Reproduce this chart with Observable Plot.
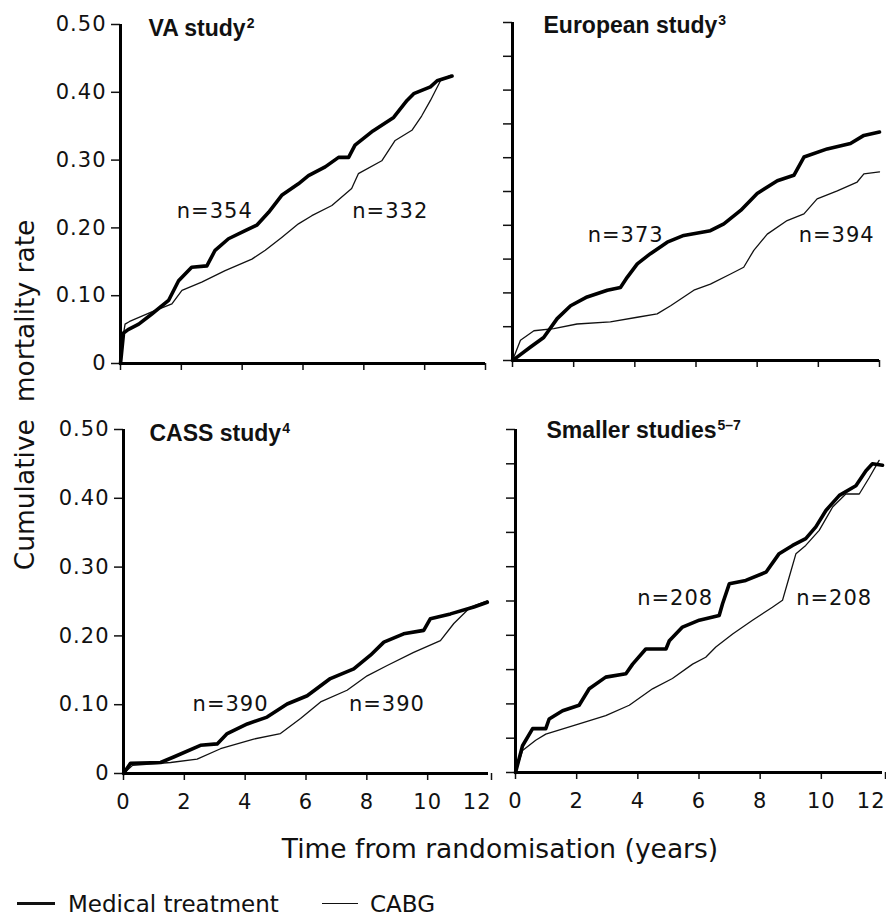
<!DOCTYPE html>
<html>
<head>
<meta charset="utf-8">
<script src="https://cdn.jsdelivr.net/npm/d3@7"></script>
<script src="https://cdn.jsdelivr.net/npm/@observablehq/plot@0.6"></script>
<style>
  body { margin: 0; background: #fff; }
  #chart { position: relative; width: 886px; height: 918px; font-family: "DejaVu Sans", sans-serif; color: #111; overflow: hidden; }
  #chart > svg, #chart > div { position: absolute; }
  .ytitle { font-size: 26.5px; white-space: pre; line-height: 1; transform: translate(-50%, -50%) rotate(-90deg); }
  .xtitle { font-size: 26.5px; white-space: pre; line-height: 1; transform: translateX(-50%); }
  .leg { font-size: 23px; line-height: 20px; white-space: pre; }
  .legline { height: 0; }
</style>
</head>
<body>
<div id="chart"></div>
<script>
// ---------- data (time in years, cumulative mortality rate) ----------
const xTicks = [0, 2, 4, 6, 8, 10, 12];
const xTicksInner = [0, 2, 4, 6, 8, 10];
const xTicksLast = [12];
const yTicksMajor = [0, 0.1, 0.2, 0.3, 0.4, 0.5];
const yTicksMinor = [0, 0.05, 0.1, 0.15, 0.2, 0.25, 0.3, 0.35, 0.4, 0.45, 0.5];

const panelTitles = ["VA study", "European study", "CASS study", "Smaller studies"];
const panelRefs = ["2", "3", "4", "5\u20137"];
const seriesNames = ["Medical treatment", "CABG"];

const vaMedical = [[0,0],[0.1,0.045],[0.25,0.05],[0.6,0.058],[1.03,0.073],[1.58,0.093],[1.91,0.122],[2.34,0.142],[2.84,0.144],[3.11,0.167],[3.55,0.184],[4.1,0.196],[4.48,0.204],[4.87,0.223],[5.3,0.248],[5.85,0.265],[6.18,0.277],[6.73,0.29],[7.17,0.304],[7.5,0.304],[7.71,0.322],[8.3,0.343],[8.98,0.363],[9.42,0.388],[9.64,0.398],[10.19,0.408],[10.41,0.417],[10.9,0.424]];
const vaCabg = [[0,0],[0.05,0.03],[0.15,0.058],[0.3,0.062],[1.03,0.076],[1.69,0.088],[2.02,0.108],[2.67,0.12],[3.44,0.137],[4.32,0.154],[4.76,0.167],[5.3,0.186],[5.85,0.206],[6.29,0.218],[6.95,0.233],[7.6,0.258],[7.82,0.28],[8.59,0.299],[9.03,0.329],[9.58,0.344],[9.9,0.365],[10.19,0.388],[10.52,0.417],[10.85,0.425]];

const euMedical = [[0,0],[0.15,0.005],[0.59,0.02],[1.02,0.034],[1.46,0.062],[1.9,0.081],[2.44,0.094],[3.1,0.104],[3.53,0.108],[3.75,0.123],[4.08,0.143],[4.51,0.158],[5.06,0.175],[5.6,0.185],[6.47,0.192],[6.91,0.202],[7.46,0.222],[8.0,0.247],[8.66,0.266],[9.2,0.274],[9.53,0.301],[10.29,0.313],[11.05,0.321],[11.49,0.333],[12.0,0.338]];
const euCabg = [[0,0],[0.26,0.03],[0.7,0.044],[1.35,0.047],[2.11,0.054],[3.2,0.057],[4.08,0.064],[4.73,0.069],[5.17,0.081],[5.93,0.104],[6.47,0.113],[7.13,0.128],[7.56,0.138],[7.89,0.163],[8.33,0.187],[8.98,0.207],[9.53,0.217],[9.96,0.239],[10.62,0.251],[11.27,0.264],[11.49,0.276],[12.0,0.279]];

const cassMedical = [[0,0],[0.23,0.015],[1.22,0.016],[1.65,0.024],[2.53,0.041],[3.08,0.043],[3.41,0.058],[4.07,0.072],[4.72,0.082],[5.38,0.101],[6.04,0.113],[6.8,0.138],[7.57,0.152],[8.12,0.172],[8.56,0.191],[9.21,0.203],[9.87,0.208],[10.09,0.225],[10.75,0.232],[11.52,0.242],[11.96,0.249]];
const cassCabg = [[0,0],[0.3,0.012],[1.55,0.016],[2.42,0.021],[3.19,0.036],[4.28,0.05],[5.16,0.058],[5.82,0.08],[6.48,0.104],[7.35,0.121],[8.01,0.142],[8.67,0.157],[9.54,0.176],[10.42,0.193],[10.86,0.218],[11.41,0.242],[11.96,0.251]];

const smallMedical = [[0,0],[0.23,0.039],[0.56,0.064],[0.99,0.064],[1.1,0.078],[1.54,0.09],[2.08,0.098],[2.41,0.122],[2.95,0.139],[3.61,0.144],[3.83,0.158],[4.26,0.18],[4.92,0.18],[5.03,0.192],[5.46,0.212],[6.01,0.222],[6.66,0.229],[6.77,0.246],[6.99,0.275],[7.53,0.28],[8.19,0.292],[8.62,0.319],[9.06,0.331],[9.49,0.341],[9.82,0.358],[10.15,0.382],[10.59,0.404],[11.13,0.418],[11.46,0.44],[11.67,0.45],[12,0.448]];
const smallCabg = [[0,0],[0.23,0.032],[0.66,0.047],[0.99,0.056],[2.08,0.071],[2.95,0.083],[3.72,0.098],[4.48,0.122],[5.13,0.137],[5.79,0.158],[6.22,0.168],[6.55,0.183],[7.1,0.202],[7.75,0.222],[8.4,0.241],[8.73,0.251],[8.95,0.285],[9.17,0.319],[9.49,0.331],[9.93,0.353],[10.37,0.387],[10.8,0.406],[11.24,0.406],[11.57,0.43],[11.89,0.455]];

// patient numbers, placed at (time, rate)
const vaLabels = [{t: 3.1, v: 0.224, n: 354}, {t: 8.87, v: 0.224, n: 332}];
const euLabels = [{t: 3.7, v: 0.185, n: 373}, {t: 10.6, v: 0.185, n: 394}];
const cassLabels = [{t: 3.52, v: 0.1, n: 390}, {t: 8.66, v: 0.1, n: 390}];
const smallLabels = [{t: 5.22, v: 0.254, n: 208}, {t: 10.42, v: 0.254, n: 208}];

// ---------- layout ----------
const layout = [
  {left: 0,   top: 0,   width: 498, height: 400, ml: 120, mr: 13, mt: 24, mb: 37, yTicks: yTicksMajor, yLab: true,  xLab: false, tdx: 28, tdy: 11},
  {left: 498, top: 0,   width: 388, height: 400, ml: 14,  mr: 7,  mt: 22, mb: 40, yTicks: yTicksMinor, yLab: false, xLab: false, tdx: 31, tdy: 10},
  {left: 0,   top: 400, width: 498, height: 425, ml: 123, mr: 10, mt: 29, mb: 52, yTicks: yTicksMajor, yLab: true,  xLab: true,  tdx: 26, tdy: 11},
  {left: 498, top: 400, width: 388, height: 425, ml: 17,  mr: 4,  mt: 29, mb: 53, yTicks: yTicksMinor, yLab: false, xLab: true,  tdx: 31, tdy: 8}
];
const panelData = [
  {medical: vaMedical, cabg: vaCabg, labels: vaLabels},
  {medical: euMedical, cabg: euCabg, labels: euLabels},
  {medical: cassMedical, cabg: cassCabg, labels: cassLabels},
  {medical: smallMedical, cabg: smallCabg, labels: smallLabels}
];

const fmtY = d => d === 0 ? "0" : d.toFixed(2);
const chart = document.getElementById("chart");
const svgNS = "http://www.w3.org/2000/svg";

panelData.forEach((pd, i) => {
  const L = layout[i];
  const xAxes = L.xLab
    ? [
        Plot.axisX({ticks: xTicksInner, tickSize: 7, tickPadding: 14, tickFormat: d => String(d), strokeWidth: 1.5, label: null}),
        Plot.axisX({ticks: xTicksLast, tickSize: 7, tickPadding: 14, tickFormat: d => String(d), strokeWidth: 1.5, label: null, textAnchor: "end", dx: 3})
      ]
    : [Plot.axisX({ticks: xTicks, tickSize: 7, tickPadding: 14, tickFormat: () => "", strokeWidth: 1.5, label: null})];
  const plot = Plot.plot({
    width: L.width, height: L.height,
    marginLeft: L.ml, marginRight: L.mr, marginTop: L.mt, marginBottom: L.mb,
    x: {domain: [0, 12]},
    y: {domain: [0, 0.5]},
    style: {fontFamily: "DejaVu Sans", fontSize: "21px", color: "#111", background: "transparent", overflow: "visible", letterSpacing: "1px"},
    marks: [
      Plot.axisY({ticks: L.yTicks, tickSize: 9, tickPadding: 5, tickFormat: L.yLab ? fmtY : () => "", strokeWidth: 1.5, label: null}),
      ...xAxes,
      Plot.line(pd.cabg, {x: d => d[0], y: d => d[1], stroke: "#111", strokeWidth: 1.3}),
      Plot.line(pd.medical, {x: d => d[0], y: d => d[1], stroke: "#000", strokeWidth: 3.6}),
      Plot.ruleX([0], {y1: 0, y2: 0.5, stroke: "#000", strokeWidth: 3}),
      Plot.ruleY([0], {x1: 0, x2: 12, stroke: "#000", strokeWidth: 3}),
      Plot.text(pd.labels, {x: "t", y: "v", text: d => "n=" + d.n, fontSize: 21, fill: "#111"}),
      Plot.text([panelTitles[i]], {frameAnchor: "top-left", textAnchor: "start", lineAnchor: "bottom", dx: L.tdx, dy: L.tdy, fontFamily: "Liberation Sans", fontWeight: "bold", fontSize: 23, fill: "#111"})
    ]
  });
  // superscript reference on the panel title
  plot.querySelectorAll("text").forEach(t => {
    if (t.textContent === panelTitles[i]) {
      t.style.letterSpacing = "0px";
      const ts = document.createElementNS(svgNS, "tspan");
      ts.setAttribute("dy", "-8");
      ts.setAttribute("dx", "1");
      ts.setAttribute("font-size", "14");
      ts.textContent = panelRefs[i];
      t.appendChild(ts);
    }
  });
  plot.style.left = L.left + "px";
  plot.style.top = L.top + "px";
  chart.appendChild(plot);
});

// axis titles
const yt = document.createElement("div");
yt.className = "ytitle";
yt.textContent = "Cumulative  mortality rate";
yt.style.left = "25px"; yt.style.top = "395px";
chart.appendChild(yt);

const xt = document.createElement("div");
xt.className = "xtitle";
xt.textContent = "Time from randomisation (years)";
xt.style.left = "500px"; xt.style.top = "836px";
chart.appendChild(xt);

// legend
const legendItems = [
  {name: seriesNames[0], lineLeft: 17, lineWidth: 38, thick: 3.6, textLeft: 68},
  {name: seriesNames[1], lineLeft: 322, lineWidth: 36, thick: 1.4, textLeft: 370}
];
legendItems.forEach(it => {
  const ln = document.createElement("div");
  ln.className = "legline";
  ln.style.left = it.lineLeft + "px";
  ln.style.width = it.lineWidth + "px";
  ln.style.top = (904 - it.thick / 2) + "px";
  ln.style.borderTop = it.thick + "px solid #111";
  chart.appendChild(ln);
  const tx = document.createElement("div");
  tx.className = "leg";
  tx.textContent = it.name;
  tx.style.left = it.textLeft + "px";
  tx.style.top = "894px";
  chart.appendChild(tx);
});
</script>
</body>
</html>
